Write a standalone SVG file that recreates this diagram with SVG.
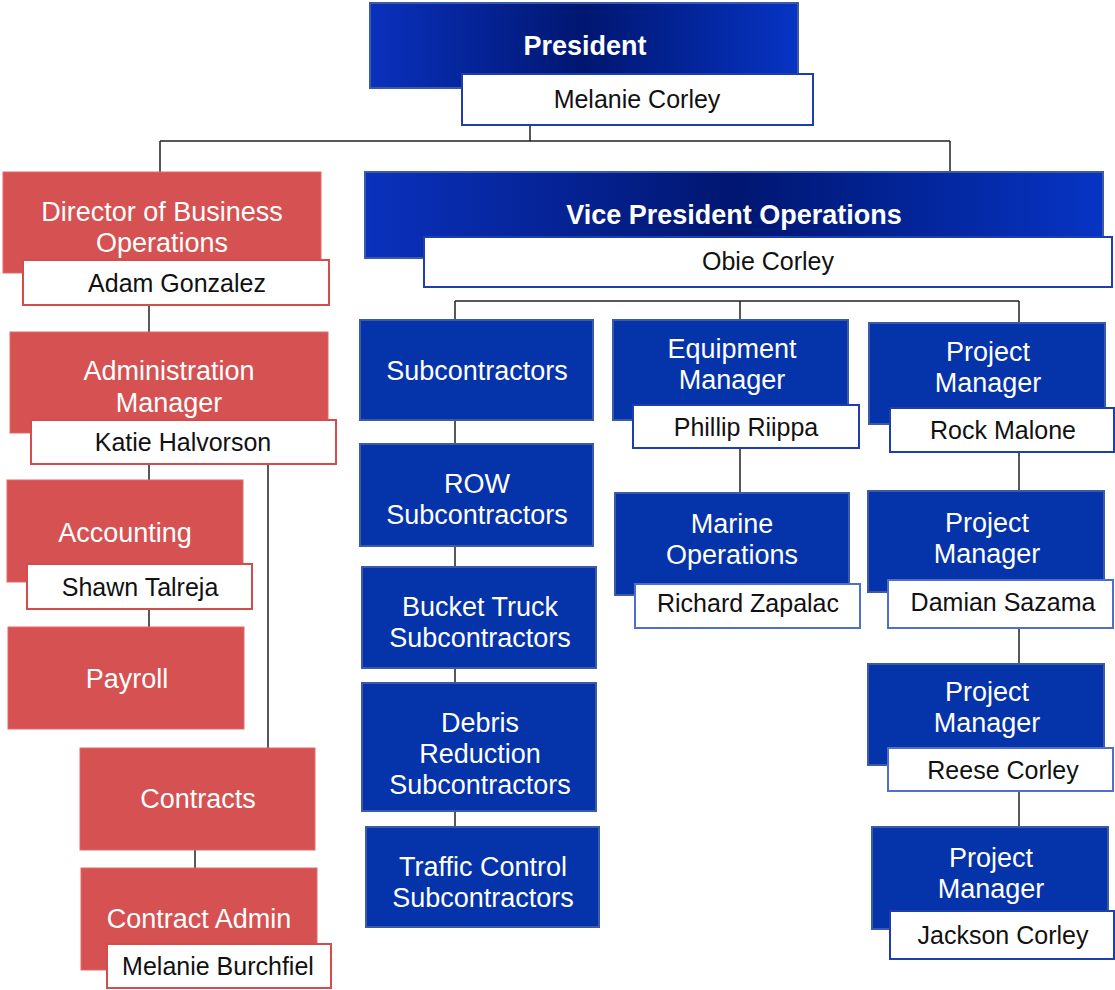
<svg xmlns="http://www.w3.org/2000/svg" width="1115" height="990" viewBox="0 0 1115 990">
<defs>
<linearGradient id="gBlue" x1="0" y1="0" x2="1" y2="0">
<stop offset="0" stop-color="#0a31bd"/>
<stop offset="0.5" stop-color="#001670"/>
<stop offset="1" stop-color="#0634c4"/>
</linearGradient>
<style>
.red{fill:#d65151;stroke:#e06a6a;stroke-width:1}
.blue{fill:#0533aa;stroke:#3d5aa8;stroke-width:2}
.top{fill:url(#gBlue);stroke:#3d5aa8;stroke-width:2}
.nr{fill:#fff;stroke:#d44c4c;stroke-width:2}
.nb{fill:#fff;stroke:#1e3eb0;stroke-width:2}
.nl{fill:#fff;stroke:#4f6fd0;stroke-width:2}
.t{font-family:"Liberation Sans",Arial,sans-serif;font-size:27px;fill:#fff;text-anchor:middle}
.tb{font-family:"Liberation Sans",Arial,sans-serif;font-size:27px;font-weight:bold;fill:#fff;text-anchor:middle}
.n{font-family:"Liberation Sans",Arial,sans-serif;font-size:25px;fill:#111;text-anchor:middle}
.c{fill:none;stroke:#222;stroke-width:1.5}
</style>
</defs>
<rect width="1115" height="990" fill="#fff"/>
<g id="connectors">
<path class="c" d="M530 125V141M160 141H950M160 141V172M950 141V172"/>
<path class="c" d="M149 305V332M149 464V480M268 464V748M149 609V627M195 850V868"/>
<path class="c" d="M455 301H1019M455 301V320M740 301V320M1019 301V323"/>
<path class="c" d="M455 420V444M455 546V567M455 668V683M455 811V827"/>
<path class="c" d="M740 448V493M1019 452V491M1019 628V664M1019 791V827"/>
</g>
<g id="president">
<rect class="top" x="370" y="3" width="428" height="85"/>
<text class="tb" x="585" y="55">President</text>
<rect class="nb" x="462" y="74" width="351" height="51"/>
<text class="n" x="637" y="108">Melanie Corley</text>
</g>
<g id="director">
<rect class="red" x="3" y="172" width="318" height="101"/>
<text class="t" x="162" y="221">Director of Business</text>
<text class="t" x="162" y="252">Operations</text>
<rect class="nr" x="23" y="260" width="306" height="45"/>
<text class="n" x="177" y="292">Adam Gonzalez</text>
</g>
<g id="admin">
<rect class="red" x="10" y="332" width="318" height="101"/>
<text class="t" x="169" y="380">Administration</text>
<text class="t" x="169" y="412">Manager</text>
<rect class="nr" x="31" y="420" width="305" height="44"/>
<text class="n" x="183" y="451">Katie Halvorson</text>
</g>
<g id="accounting">
<rect class="red" x="7" y="480" width="236" height="102"/>
<text class="t" x="125" y="542">Accounting</text>
<rect class="nr" x="27" y="564" width="225" height="45"/>
<text class="n" x="140" y="596">Shawn Talreja</text>
</g>
<g id="payroll">
<rect class="red" x="8" y="627" width="236" height="102"/>
<text class="t" x="127" y="688">Payroll</text>
</g>
<g id="contracts">
<rect class="red" x="80" y="748" width="235" height="102"/>
<text class="t" x="198" y="808">Contracts</text>
</g>
<g id="contract-admin">
<rect class="red" x="81" y="868" width="236" height="102"/>
<text class="t" x="199" y="928">Contract Admin</text>
<rect class="nr" x="107" y="944" width="224" height="44"/>
<text class="n" x="218" y="975">Melanie Burchfiel</text>
</g>
<g id="vp">
<rect class="top" x="365" y="172" width="738" height="86"/>
<text class="tb" x="734" y="224">Vice President Operations</text>
<rect class="nb" x="424" y="237" width="688" height="50"/>
<text class="n" x="768" y="270">Obie Corley</text>
</g>
<g id="subcontractors">
<rect class="blue" x="360" y="320" width="233" height="100"/>
<text class="t" x="477" y="380">Subcontractors</text>
</g>
<g id="row">
<rect class="blue" x="360" y="444" width="233" height="102"/>
<text class="t" x="477" y="493">ROW</text>
<text class="t" x="477" y="524">Subcontractors</text>
</g>
<g id="bucket">
<rect class="blue" x="362" y="567" width="234" height="101"/>
<text class="t" x="480" y="616">Bucket Truck</text>
<text class="t" x="480" y="647">Subcontractors</text>
</g>
<g id="debris">
<rect class="blue" x="362" y="683" width="234" height="128"/>
<text class="t" x="480" y="732">Debris</text>
<text class="t" x="480" y="763">Reduction</text>
<text class="t" x="480" y="794">Subcontractors</text>
</g>
<g id="traffic">
<rect class="blue" x="366" y="827" width="233" height="100"/>
<text class="t" x="483" y="876">Traffic Control</text>
<text class="t" x="483" y="907">Subcontractors</text>
</g>
<g id="equipment">
<rect class="blue" x="613" y="320" width="235" height="100"/>
<text class="t" x="732" y="358">Equipment</text>
<text class="t" x="732" y="389">Manager</text>
<rect class="nb" x="633" y="405" width="226" height="43"/>
<text class="n" x="746" y="436">Phillip Riippa</text>
</g>
<g id="marine">
<rect class="blue" x="615" y="493" width="234" height="102"/>
<text class="t" x="732" y="533">Marine</text>
<text class="t" x="732" y="564">Operations</text>
<rect class="nl" x="635" y="584" width="225" height="44"/>
<text class="n" x="748" y="612">Richard Zapalac</text>
</g>
<g id="pm1">
<rect class="blue" x="869" y="323" width="236" height="101"/>
<text class="t" x="988" y="361">Project</text>
<text class="t" x="988" y="392">Manager</text>
<rect class="nb" x="890" y="408" width="224" height="44"/>
<text class="n" x="1003" y="439">Rock Malone</text>
</g>
<g id="pm2">
<rect class="blue" x="868" y="491" width="236" height="101"/>
<text class="t" x="987" y="532">Project</text>
<text class="t" x="987" y="563">Manager</text>
<rect class="nl" x="888" y="580" width="225" height="48"/>
<text class="n" x="1003" y="611">Damian Sazama</text>
</g>
<g id="pm3">
<rect class="blue" x="868" y="664" width="236" height="101"/>
<text class="t" x="987" y="701">Project</text>
<text class="t" x="987" y="732">Manager</text>
<rect class="nl" x="888" y="748" width="225" height="43"/>
<text class="n" x="1003" y="779">Reese Corley</text>
</g>
<g id="pm4">
<rect class="blue" x="872" y="827" width="236" height="102"/>
<text class="t" x="991" y="867">Project</text>
<text class="t" x="991" y="898">Manager</text>
<rect class="nb" x="890" y="911" width="224" height="48"/>
<text class="n" x="1003" y="944">Jackson Corley</text>
</g>
</svg>
